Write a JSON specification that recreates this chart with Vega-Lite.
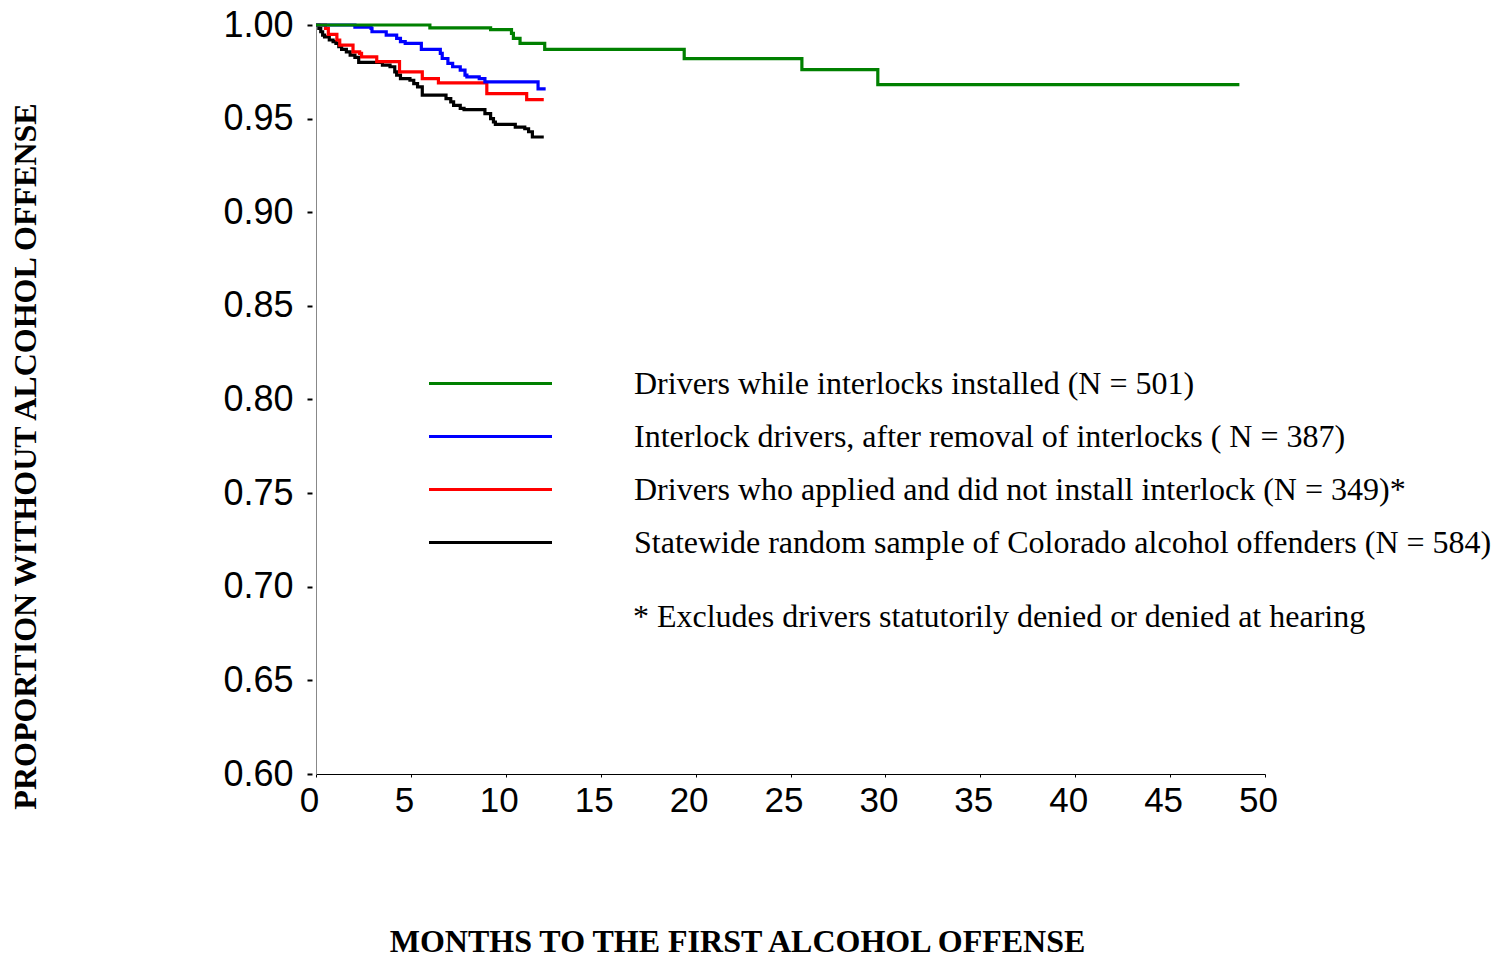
{
  "$schema": "https://vega.github.io/schema/vega-lite/v6.json",
  "autosize": "none",
  "width": 949,
  "height": 749,
  "padding": {"left": 316, "top": 25, "right": 232, "bottom": 183},
  "background": "white",
  "config": {"view": {"stroke": null}},
  "datasets": {
    "km": [
      {"s": "Statewide random sample of Colorado alcohol offenders (N = 584)", "m": 0, "p": 1.0},
      {"s": "Statewide random sample of Colorado alcohol offenders (N = 584)", "m": 0.15, "p": 0.9982},
      {"s": "Statewide random sample of Colorado alcohol offenders (N = 584)", "m": 0.25, "p": 0.9964},
      {"s": "Statewide random sample of Colorado alcohol offenders (N = 584)", "m": 0.35, "p": 0.9946},
      {"s": "Statewide random sample of Colorado alcohol offenders (N = 584)", "m": 0.45, "p": 0.9937},
      {"s": "Statewide random sample of Colorado alcohol offenders (N = 584)", "m": 0.7, "p": 0.992},
      {"s": "Statewide random sample of Colorado alcohol offenders (N = 584)", "m": 0.9, "p": 0.9911},
      {"s": "Statewide random sample of Colorado alcohol offenders (N = 584)", "m": 1.05, "p": 0.9902},
      {"s": "Statewide random sample of Colorado alcohol offenders (N = 584)", "m": 1.2, "p": 0.9884},
      {"s": "Statewide random sample of Colorado alcohol offenders (N = 584)", "m": 1.35, "p": 0.987},
      {"s": "Statewide random sample of Colorado alcohol offenders (N = 584)", "m": 1.6, "p": 0.9857},
      {"s": "Statewide random sample of Colorado alcohol offenders (N = 584)", "m": 1.8, "p": 0.9839},
      {"s": "Statewide random sample of Colorado alcohol offenders (N = 584)", "m": 2.05, "p": 0.9827},
      {"s": "Statewide random sample of Colorado alcohol offenders (N = 584)", "m": 2.25, "p": 0.98},
      {"s": "Statewide random sample of Colorado alcohol offenders (N = 584)", "m": 3.5, "p": 0.9786},
      {"s": "Statewide random sample of Colorado alcohol offenders (N = 584)", "m": 3.9, "p": 0.9777},
      {"s": "Statewide random sample of Colorado alcohol offenders (N = 584)", "m": 4.15, "p": 0.975},
      {"s": "Statewide random sample of Colorado alcohol offenders (N = 584)", "m": 4.25, "p": 0.9732},
      {"s": "Statewide random sample of Colorado alcohol offenders (N = 584)", "m": 4.45, "p": 0.9714},
      {"s": "Statewide random sample of Colorado alcohol offenders (N = 584)", "m": 4.95, "p": 0.9705},
      {"s": "Statewide random sample of Colorado alcohol offenders (N = 584)", "m": 5.15, "p": 0.9687},
      {"s": "Statewide random sample of Colorado alcohol offenders (N = 584)", "m": 5.35, "p": 0.967},
      {"s": "Statewide random sample of Colorado alcohol offenders (N = 584)", "m": 5.6, "p": 0.9625},
      {"s": "Statewide random sample of Colorado alcohol offenders (N = 584)", "m": 6.85, "p": 0.9607},
      {"s": "Statewide random sample of Colorado alcohol offenders (N = 584)", "m": 7.1, "p": 0.9589},
      {"s": "Statewide random sample of Colorado alcohol offenders (N = 584)", "m": 7.25, "p": 0.9571},
      {"s": "Statewide random sample of Colorado alcohol offenders (N = 584)", "m": 7.6, "p": 0.9555},
      {"s": "Statewide random sample of Colorado alcohol offenders (N = 584)", "m": 7.8, "p": 0.9548},
      {"s": "Statewide random sample of Colorado alcohol offenders (N = 584)", "m": 8.9, "p": 0.9527},
      {"s": "Statewide random sample of Colorado alcohol offenders (N = 584)", "m": 9.2, "p": 0.95},
      {"s": "Statewide random sample of Colorado alcohol offenders (N = 584)", "m": 9.35, "p": 0.9482},
      {"s": "Statewide random sample of Colorado alcohol offenders (N = 584)", "m": 9.45, "p": 0.9469},
      {"s": "Statewide random sample of Colorado alcohol offenders (N = 584)", "m": 10.5, "p": 0.9455},
      {"s": "Statewide random sample of Colorado alcohol offenders (N = 584)", "m": 11.0, "p": 0.9446},
      {"s": "Statewide random sample of Colorado alcohol offenders (N = 584)", "m": 11.2, "p": 0.943},
      {"s": "Statewide random sample of Colorado alcohol offenders (N = 584)", "m": 11.4, "p": 0.9402},
      {"s": "Statewide random sample of Colorado alcohol offenders (N = 584)", "m": 12.0, "p": 0.9402},

      {"s": "Drivers who applied and did not install interlock (N = 349)*", "m": 0, "p": 1.0},
      {"s": "Drivers who applied and did not install interlock (N = 349)*", "m": 0.5, "p": 0.9982},
      {"s": "Drivers who applied and did not install interlock (N = 349)*", "m": 0.65, "p": 0.995},
      {"s": "Drivers who applied and did not install interlock (N = 349)*", "m": 1.1, "p": 0.992},
      {"s": "Drivers who applied and did not install interlock (N = 349)*", "m": 1.25, "p": 0.9893},
      {"s": "Drivers who applied and did not install interlock (N = 349)*", "m": 1.95, "p": 0.9857},
      {"s": "Drivers who applied and did not install interlock (N = 349)*", "m": 2.3, "p": 0.9848},
      {"s": "Drivers who applied and did not install interlock (N = 349)*", "m": 2.4, "p": 0.983},
      {"s": "Drivers who applied and did not install interlock (N = 349)*", "m": 3.2, "p": 0.9804},
      {"s": "Drivers who applied and did not install interlock (N = 349)*", "m": 4.4, "p": 0.975},
      {"s": "Drivers who applied and did not install interlock (N = 349)*", "m": 5.6, "p": 0.9714},
      {"s": "Drivers who applied and did not install interlock (N = 349)*", "m": 6.45, "p": 0.9691},
      {"s": "Drivers who applied and did not install interlock (N = 349)*", "m": 9.0, "p": 0.9634},
      {"s": "Drivers who applied and did not install interlock (N = 349)*", "m": 11.1, "p": 0.9602},
      {"s": "Drivers who applied and did not install interlock (N = 349)*", "m": 12.0, "p": 0.9602},

      {"s": "Interlock drivers, after removal of interlocks ( N = 387)", "m": 0, "p": 1.0},
      {"s": "Interlock drivers, after removal of interlocks ( N = 387)", "m": 2.05, "p": 0.9988},
      {"s": "Interlock drivers, after removal of interlocks ( N = 387)", "m": 2.9, "p": 0.9982},
      {"s": "Interlock drivers, after removal of interlocks ( N = 387)", "m": 2.95, "p": 0.9964},
      {"s": "Interlock drivers, after removal of interlocks ( N = 387)", "m": 3.7, "p": 0.9946},
      {"s": "Interlock drivers, after removal of interlocks ( N = 387)", "m": 4.25, "p": 0.9929},
      {"s": "Interlock drivers, after removal of interlocks ( N = 387)", "m": 4.45, "p": 0.9911},
      {"s": "Interlock drivers, after removal of interlocks ( N = 387)", "m": 4.7, "p": 0.9902},
      {"s": "Interlock drivers, after removal of interlocks ( N = 387)", "m": 5.55, "p": 0.987},
      {"s": "Interlock drivers, after removal of interlocks ( N = 387)", "m": 6.55, "p": 0.9848},
      {"s": "Interlock drivers, after removal of interlocks ( N = 387)", "m": 6.65, "p": 0.9821},
      {"s": "Interlock drivers, after removal of interlocks ( N = 387)", "m": 6.95, "p": 0.9795},
      {"s": "Interlock drivers, after removal of interlocks ( N = 387)", "m": 7.2, "p": 0.9777},
      {"s": "Interlock drivers, after removal of interlocks ( N = 387)", "m": 7.6, "p": 0.9759},
      {"s": "Interlock drivers, after removal of interlocks ( N = 387)", "m": 7.85, "p": 0.9732},
      {"s": "Interlock drivers, after removal of interlocks ( N = 387)", "m": 7.95, "p": 0.9723},
      {"s": "Interlock drivers, after removal of interlocks ( N = 387)", "m": 8.6, "p": 0.9714},
      {"s": "Interlock drivers, after removal of interlocks ( N = 387)", "m": 8.9, "p": 0.9696},
      {"s": "Interlock drivers, after removal of interlocks ( N = 387)", "m": 11.7, "p": 0.9659},
      {"s": "Interlock drivers, after removal of interlocks ( N = 387)", "m": 12.1, "p": 0.9659},

      {"s": "Drivers while interlocks installed (N = 501)", "m": 0, "p": 1.0},
      {"s": "Drivers while interlocks installed (N = 501)", "m": 6.0, "p": 0.9985},
      {"s": "Drivers while interlocks installed (N = 501)", "m": 9.2, "p": 0.9975},
      {"s": "Drivers while interlocks installed (N = 501)", "m": 10.3, "p": 0.9955},
      {"s": "Drivers while interlocks installed (N = 501)", "m": 10.4, "p": 0.9929},
      {"s": "Drivers while interlocks installed (N = 501)", "m": 10.75, "p": 0.9902},
      {"s": "Drivers while interlocks installed (N = 501)", "m": 12.05, "p": 0.987},
      {"s": "Drivers while interlocks installed (N = 501)", "m": 19.4, "p": 0.982},
      {"s": "Drivers while interlocks installed (N = 501)", "m": 25.6, "p": 0.9762},
      {"s": "Drivers while interlocks installed (N = 501)", "m": 29.6, "p": 0.9682},
      {"s": "Drivers while interlocks installed (N = 501)", "m": 48.65, "p": 0.9682}
    ],
    "note": [
      {"t": "* Excludes drivers statutorily denied or denied at hearing", "m": 16.7, "p": 0.6836}
    ]
  },
  "layer": [
    {
      "data": {"name": "km"},
      "mark": {"type": "line", "interpolate": "step-after", "strokeWidth": 3.2},
      "encoding": {
        "x": {
          "field": "m", "type": "quantitative",
          "scale": {"domain": [0, 50], "nice": false, "zero": false},
          "axis": {
            "title": "MONTHS TO THE FIRST ALCOHOL OFFENSE",
            "titleFont": "Liberation Serif", "titleFontSize": 32, "titleFontWeight": "bold", "titleColor": "black",
            "titleX": 421, "titleY": 167, "titleAnchor": null, "titleAlign": "center", "titleBaseline": "middle",
            "values": [0, 5, 10, 15, 20, 25, 30, 35, 40, 45, 50],
            "labelFont": "Liberation Sans", "labelFontSize": 35, "labelColor": "black",
            "labelOffset": -7, "labelPadding": 6, "labelFlush": false, "labelOverlap": false,
            "tickSize": 3, "tickColor": "black", "domainColor": "black", "grid": false
          }
        },
        "y": {
          "field": "p", "type": "quantitative",
          "scale": {"domain": [0.6, 1.0], "nice": false, "zero": false},
          "axis": {
            "title": "PROPORTION WITHOUT ALCOHOL OFFENSE",
            "titleFont": "Liberation Serif", "titleFontSize": 32, "titleFontWeight": "bold", "titleColor": "black",
            "titleX": -291, "titleY": 431, "titleAngle": 270, "titleAnchor": null, "titleAlign": "center", "titleBaseline": "middle",
            "values": [0.6, 0.65, 0.7, 0.75, 0.8, 0.85, 0.9, 0.95, 1.0],
            "format": ".2f",
            "labelFont": "Liberation Sans", "labelFontSize": 36, "labelColor": "black",
            "labelPadding": 14, "labelFlush": false, "labelOverlap": false, "labelBaseline": "middle", "labelDy": 3,
            "tickSize": 9, "tickWidth": 2, "tickDash": [0, 4, 5, 4], "tickColor": "black",
            "domainColor": "#888888", "grid": false
          }
        },
        "color": {
          "field": "s", "type": "nominal",
          "scale": {
            "domain": [
              "Drivers while interlocks installed (N = 501)",
              "Interlock drivers, after removal of interlocks ( N = 387)",
              "Drivers who applied and did not install interlock (N = 349)*",
              "Statewide random sample of Colorado alcohol offenders (N = 584)"
            ],
            "range": ["#008000", "#0000ff", "#ff0000", "#000000"]
          },
          "legend": {
            "title": null, "orient": "none", "legendX": 111, "legendY": 343,
            "symbolType": "stroke", "symbolSize": 15129, "symbolStrokeWidth": 3.2,
            "clipHeight": 31, "rowPadding": 20, "padding": 0,
            "labelFont": "Liberation Serif", "labelFontSize": 32, "labelColor": "black",
            "labelOffset": 80, "labelLimit": 0
          }
        }
      }
    },
    {
      "data": {"name": "note"},
      "mark": {"type": "text", "align": "left", "baseline": "middle", "font": "Liberation Serif", "fontSize": 32, "color": "black"},
      "encoding": {
        "x": {"field": "m", "type": "quantitative"},
        "y": {"field": "p", "type": "quantitative"},
        "text": {"field": "t"}
      }
    }
  ]
}
